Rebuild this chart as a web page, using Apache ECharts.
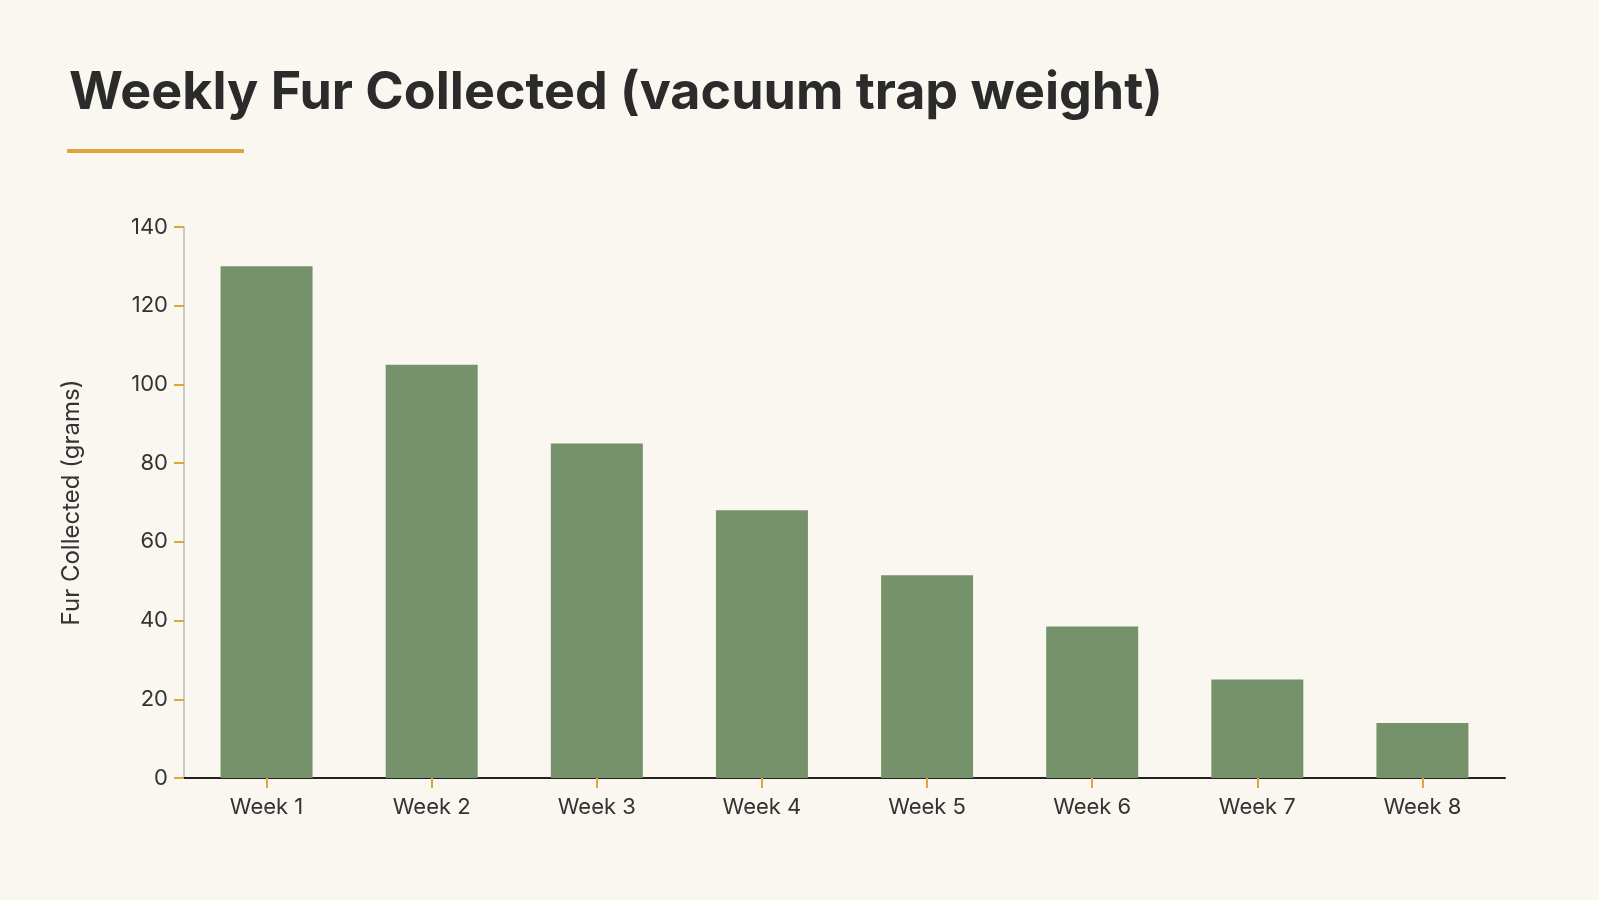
<!DOCTYPE html>
<html>
<head>
<meta charset="utf-8">
<script src="https://cdn.jsdelivr.net/npm/echarts@6/dist/echarts.min.js"></script>
<style>
  html, body { margin: 0; padding: 0; background: #faf7f0; }
  #chart { width: 1599px; height: 900px; }
</style>
</head>
<body>
<div id="chart"></div>
<script>
var weeks = ['Week 1', 'Week 2', 'Week 3', 'Week 4', 'Week 5', 'Week 6', 'Week 7', 'Week 8'];
var furGrams = [130, 105, 85, 68, 51.5, 38.5, 25, 14];

var chart = echarts.init(document.getElementById('chart'));
chart.setOption({
  backgroundColor: '#faf7f0',
  animation: false,
  title: {
    text: 'Weekly Fur Collected (vacuum trap weight)',
    left: 64, top: 62,
    textStyle: { fontFamily: 'Inter', fontSize: 52, fontWeight: 'bold', color: '#2b2b2b' }
  },
  graphic: [{
    type: 'rect',
    shape: { x: 67, y: 149, width: 177, height: 4 },
    style: { fill: '#e0a43c' }
  }],
  grid: { left: 184, right: 94, top: 227, bottom: 122 },
  xAxis: {
    type: 'category',
    data: weeks,
    axisLine: { lineStyle: { color: '#222', width: 2 } },
    axisTick: { show: true, alignWithLabel: true, length: 10, lineStyle: { color: '#e0a43c', width: 2 } },
    axisLabel: { fontFamily: 'Inter', fontSize: 22, color: '#333', margin: 18 }
  },
  yAxis: {
    type: 'value',
    min: 0, max: 140, interval: 20,
    name: 'Fur Collected (grams)',
    nameLocation: 'middle',
    nameGap: 100,
    nameTextStyle: { fontFamily: 'Inter', fontSize: 24, color: '#333' },
    axisLine: { show: true, lineStyle: { color: '#bbb', width: 1.5 } },
    axisTick: { show: true, length: 10, lineStyle: { color: '#e0a43c', width: 2 } },
    axisLabel: { fontFamily: 'Inter', fontSize: 22, color: '#333', margin: 16 },
    splitLine: { show: false }
  },
  series: [{
    type: 'bar',
    data: furGrams,
    barWidth: 92,
    itemStyle: { color: '#76926a' }
  }]
});
</script>
</body>
</html>
